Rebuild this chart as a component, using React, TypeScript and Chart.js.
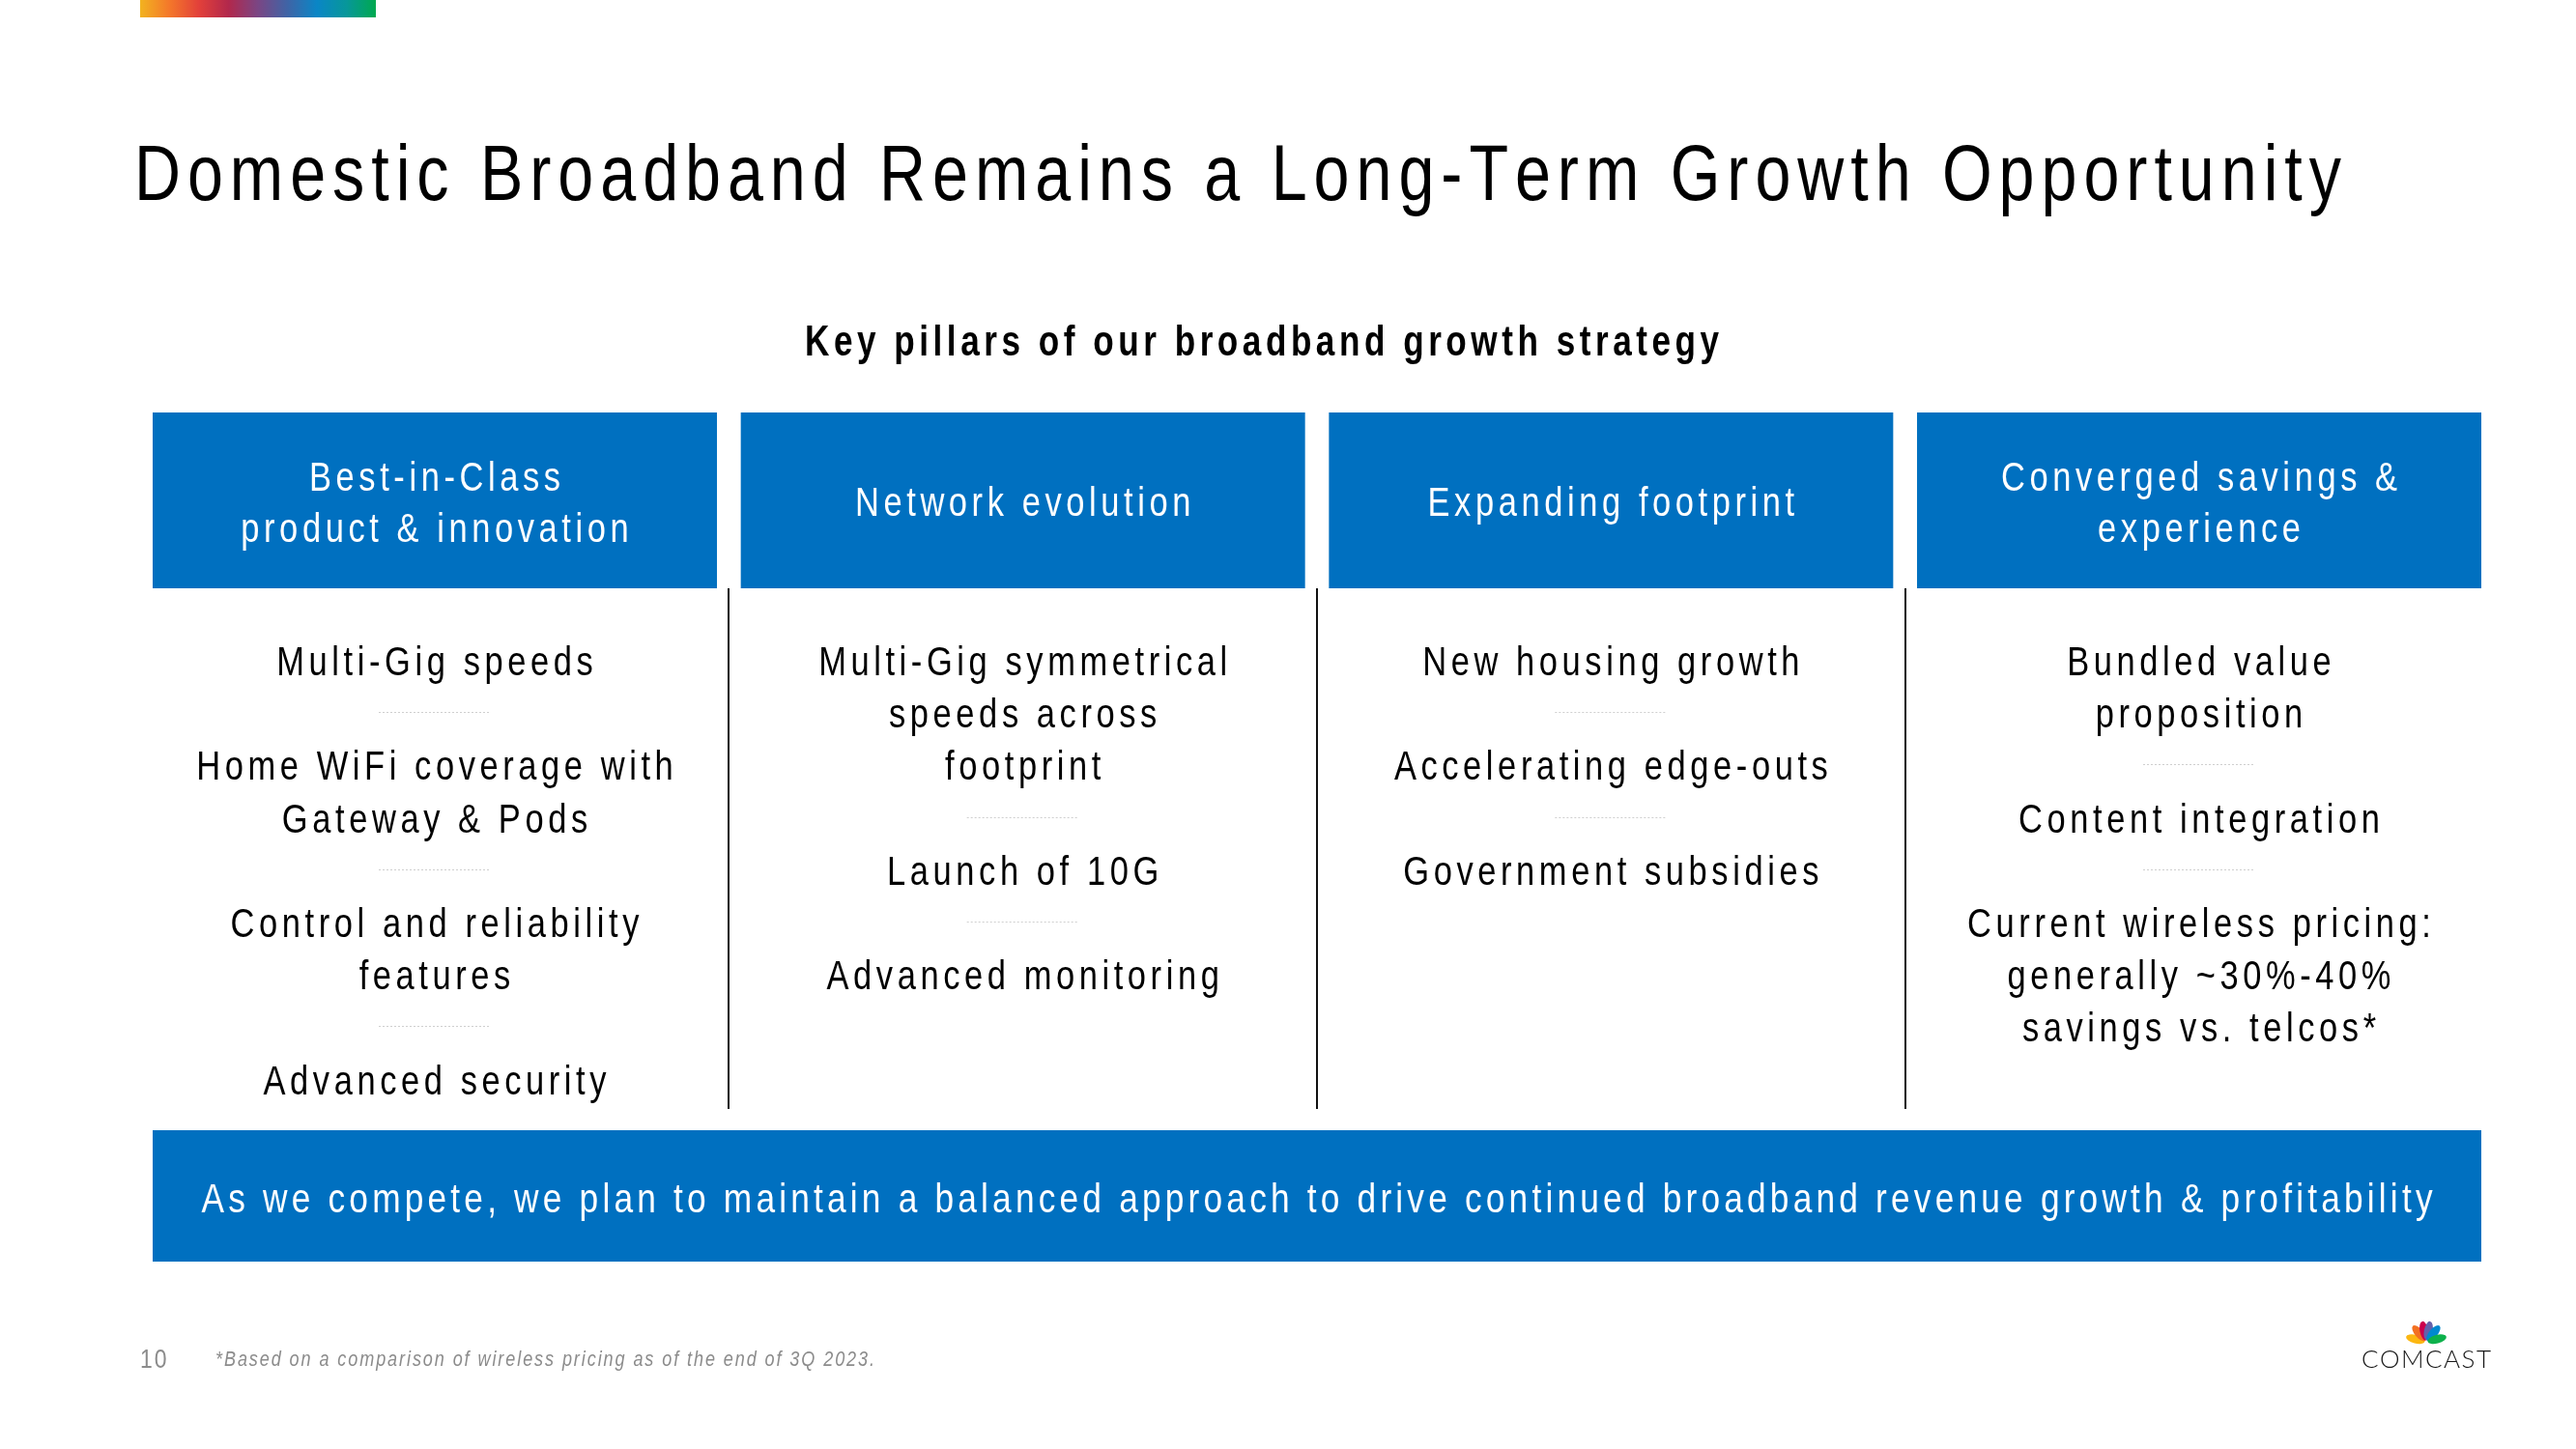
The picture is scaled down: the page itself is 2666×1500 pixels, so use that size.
import React, { useEffect, useRef } from "react";
import { Chart, registerables } from "chart.js";

Chart.register(...registerables);

// ---------- content ----------
const TITLE = "Domestic Broadband Remains a Long-Term Growth Opportunity";
const SUBTITLE = "Key pillars of our broadband growth strategy";
const PILLAR_TITLES: string[][] = [
  ["Best-in-Class", "product & innovation"],
  ["Network evolution"],
  ["Expanding footprint"],
  ["Converged savings &", "experience"],
];
const PILLAR_1_ITEMS: string[][] = [
  ["Multi-Gig speeds"],
  ["Home WiFi coverage with", "Gateway & Pods"],
  ["Control and reliability", "features"],
  ["Advanced security"],
];
const PILLAR_2_ITEMS: string[][] = [
  ["Multi-Gig symmetrical", "speeds across", "footprint"],
  ["Launch of 10G"],
  ["Advanced monitoring"],
];
const PILLAR_3_ITEMS: string[][] = [
  ["New housing growth"],
  ["Accelerating edge-outs"],
  ["Government subsidies"],
];
const PILLAR_4_ITEMS: string[][] = [
  ["Bundled value", "proposition"],
  ["Content integration"],
  ["Current wireless pricing:", "generally ~30%-40%", "savings vs. telcos*"],
];
const PILLAR_ITEMS = [PILLAR_1_ITEMS, PILLAR_2_ITEMS, PILLAR_3_ITEMS, PILLAR_4_ITEMS];
const BANNER =
  "As we compete, we plan to maintain a balanced approach to drive continued broadband revenue growth & profitability";
const FOOTNOTE = "*Based on a comparison of wireless pricing as of the end of 3Q 2023.";
const PAGE_NUMBER = "10";
const LOGO_TEXT = "COMCAST";

// header band extent (in slide units on the y scale)
const HEADER_RANGE: [number, number] = [427, 609];

// ---------- layout / style ----------
const W = 2666;
const H = 1500;
const BLUE = "#0070C0";
const FONT = '"Liberation Sans", Arial, sans-serif';
const NARROW = 0.82;
const GRADIENT = ["#f2b320", "#f4772a", "#e2403a", "#b2284c", "#7a4684", "#3f64a6", "#0a86c6", "#07979a", "#00a94f"];
const PEACOCK = ["#fcb711", "#f37021", "#cc004c", "#6460aa", "#0089d0", "#0db14b"];

type TxtOpt = {
  size: number;
  weight?: string;
  style?: string;
  color: string;
  sx?: number;
  sp?: number;
  width?: number;
  align?: "left" | "center" | "right";
  family?: string;
};

function drawText(ctx: CanvasRenderingContext2D, text: string, x: number, y: number, o: TxtOpt) {
  const sx = o.sx ?? NARROW;
  ctx.save();
  ctx.font = `${o.style ?? "normal"} ${o.weight ?? "normal"} ${o.size}px ${o.family ?? FONT}`;
  ctx.fillStyle = o.color;
  ctx.textAlign = "left";
  ctx.textBaseline = "alphabetic";
  const chars = Array.from(text);
  const ws = chars.map((c) => ctx.measureText(c).width * sx);
  const nat = ws.reduce((a, b) => a + b, 0);
  let sp = o.sp ?? 0;
  if (o.width !== undefined && chars.length > 1) sp = (o.width - nat) / (chars.length - 1);
  const total = nat + sp * (chars.length - 1);
  let cx = x;
  if (o.align === "center") cx = x - total / 2;
  else if (o.align === "right") cx = x - total;
  chars.forEach((c, i) => {
    ctx.save();
    ctx.translate(cx, y);
    ctx.scale(sx, 1);
    ctx.fillText(c, 0, 0);
    ctx.restore();
    cx += ws[i] + sp;
  });
  ctx.restore();
}

const slidePlugin = {
  id: "slide",
  beforeDatasetsDraw(chart: any) {
    const ctx: CanvasRenderingContext2D = chart.ctx;
    ctx.save();
    // gradient strip
    const g = ctx.createLinearGradient(145, 0, 389, 0);
    GRADIENT.forEach((c, i) => g.addColorStop(i / (GRADIENT.length - 1), c));
    ctx.fillStyle = g;
    ctx.fillRect(145, 0, 244, 18);
    // title
    drawText(ctx, TITLE, 139, 207, { size: 81, color: "#000", width: 2284 });
    // subtitle
    drawText(ctx, SUBTITLE, 1306, 368, {
      size: 45,
      weight: "bold",
      color: "#000",
      sx: 0.78,
      width: 946,
      align: "center",
    });
    ctx.restore();
  },
  afterDatasetsDraw(chart: any) {
    const ctx: CanvasRenderingContext2D = chart.ctx;
    const xs = chart.scales.x;
    const ys = chart.scales.y;
    const pitch = xs.getPixelForValue(1) - xs.getPixelForValue(0);
    const hTop = ys.getPixelForValue(HEADER_RANGE[0]);
    const hBot = ys.getPixelForValue(HEADER_RANGE[1]);
    const hMid = (hTop + hBot) / 2;

    PILLAR_TITLES.forEach((lines, i) => {
      const cx = xs.getPixelForValue(i);
      lines.forEach((ln, j) => {
        const y = hMid + 16 + (j - (lines.length - 1) / 2) * 53;
        drawText(ctx, ln, cx, y, { size: 42, color: "#fff", sp: 4.6, align: "center" });
      });
    });

    // column dividers
    ctx.save();
    ctx.strokeStyle = "#111";
    ctx.lineWidth = 2;
    for (let i = 0; i < PILLAR_TITLES.length - 1; i++) {
      const x = Math.round(xs.getPixelForValue(i) + pitch / 2);
      ctx.beginPath();
      ctx.moveTo(x, hBot);
      ctx.lineTo(x, 1148);
      ctx.stroke();
    }
    ctx.restore();

    // items
    const first = 699;
    const lh = 54.2;
    PILLAR_ITEMS.forEach((items, i) => {
      const cx = xs.getPixelForValue(i);
      let k = 0;
      items.forEach((item, j) => {
        item.forEach((ln) => {
          drawText(ctx, ln, cx, first + k * lh, { size: 42, color: "#000", sp: 4.6, align: "center" });
          k++;
        });
        if (j < items.length - 1) {
          const sy = Math.round(first + k * lh - 16) + 0.5;
          ctx.save();
          ctx.strokeStyle = "#cfcfcf";
          ctx.lineWidth = 1;
          ctx.setLineDash([2, 2]);
          ctx.beginPath();
          ctx.moveTo(cx - 58, sy);
          ctx.lineTo(cx + 58, sy);
          ctx.stroke();
          ctx.restore();
          k++;
        }
      });
    });

    // banner
    const left = xs.getPixelForValue(0) - pitch * 0.4797;
    const right = xs.getPixelForValue(PILLAR_TITLES.length - 1) + pitch * 0.4797;
    ctx.save();
    ctx.fillStyle = BLUE;
    ctx.fillRect(left, 1170, right - left, 136);
    ctx.restore();
    drawText(ctx, BANNER, (left + right) / 2, 1255, { size: 43, color: "#fff", width: 2309, align: "center" });

    // footer
    drawText(ctx, PAGE_NUMBER, 145, 1416, { size: 28, color: "#8c8c8c", sp: 2 });
    drawText(ctx, FOOTNOTE, 223, 1414, { size: 22, style: "italic", color: "#8c8c8c", width: 682 });

    // logo
    ctx.save();
    const pcx = 2511;
    const pcy = 1389;
    const angles = [-166, -130, -101, -79, -50, -14];
    angles.forEach((a, i) => {
      ctx.save();
      ctx.translate(pcx, pcy);
      ctx.rotate((a * Math.PI) / 180);
      ctx.fillStyle = PEACOCK[i];
      ctx.beginPath();
      ctx.ellipse(11.5, 0, 10, 4.4, 0, 0, Math.PI * 2);
      ctx.fill();
      ctx.restore();
    });
    ctx.restore();
    drawText(ctx, LOGO_TEXT, 2444, 1416, {
      size: 26,
      weight: "300",
      color: "#1a1a1a",
      sx: 1,
      width: 134,
      family: 'Lato, "Liberation Sans", sans-serif',
    });
  },
};

export default function App() {
  const ref = useRef<HTMLCanvasElement | null>(null);
  useEffect(() => {
    document.body.style.margin = "0";
    const canvas = ref.current;
    if (!canvas) return;
    const pitch = 608.67;
    const firstCenter = 450;
    const chart = new Chart(canvas, {
      type: "bar",
      data: {
        labels: PILLAR_TITLES.map((t) => t.join(" ")),
        datasets: [
          {
            data: PILLAR_TITLES.map(() => HEADER_RANGE) as any,
            backgroundColor: BLUE,
            barPercentage: 584 / pitch,
            categoryPercentage: 1,
            borderSkipped: false,
            borderWidth: 0,
          },
        ],
      },
      options: {
        responsive: false,
        maintainAspectRatio: false,
        animation: false,
        devicePixelRatio: 1,
        events: [],
        layout: {
          padding: {
            left: firstCenter - pitch / 2,
            right: W - (firstCenter + pitch * 3.5),
            top: 0,
            bottom: 0,
          },
        },
        scales: {
          x: { display: false, offset: true, grid: { display: false } },
          y: { display: false, min: 0, max: H, reverse: true },
        },
        plugins: {
          legend: { display: false },
          tooltip: { enabled: false },
          title: { display: false },
        },
      },
      plugins: [slidePlugin as any],
    });
    return () => chart.destroy();
  }, []);
  return (
    <div style={{ width: W, height: H, background: "#fff" }}>
      <canvas ref={ref} width={W} height={H} style={{ display: "block", width: W, height: H }} />
    </div>
  );
}
